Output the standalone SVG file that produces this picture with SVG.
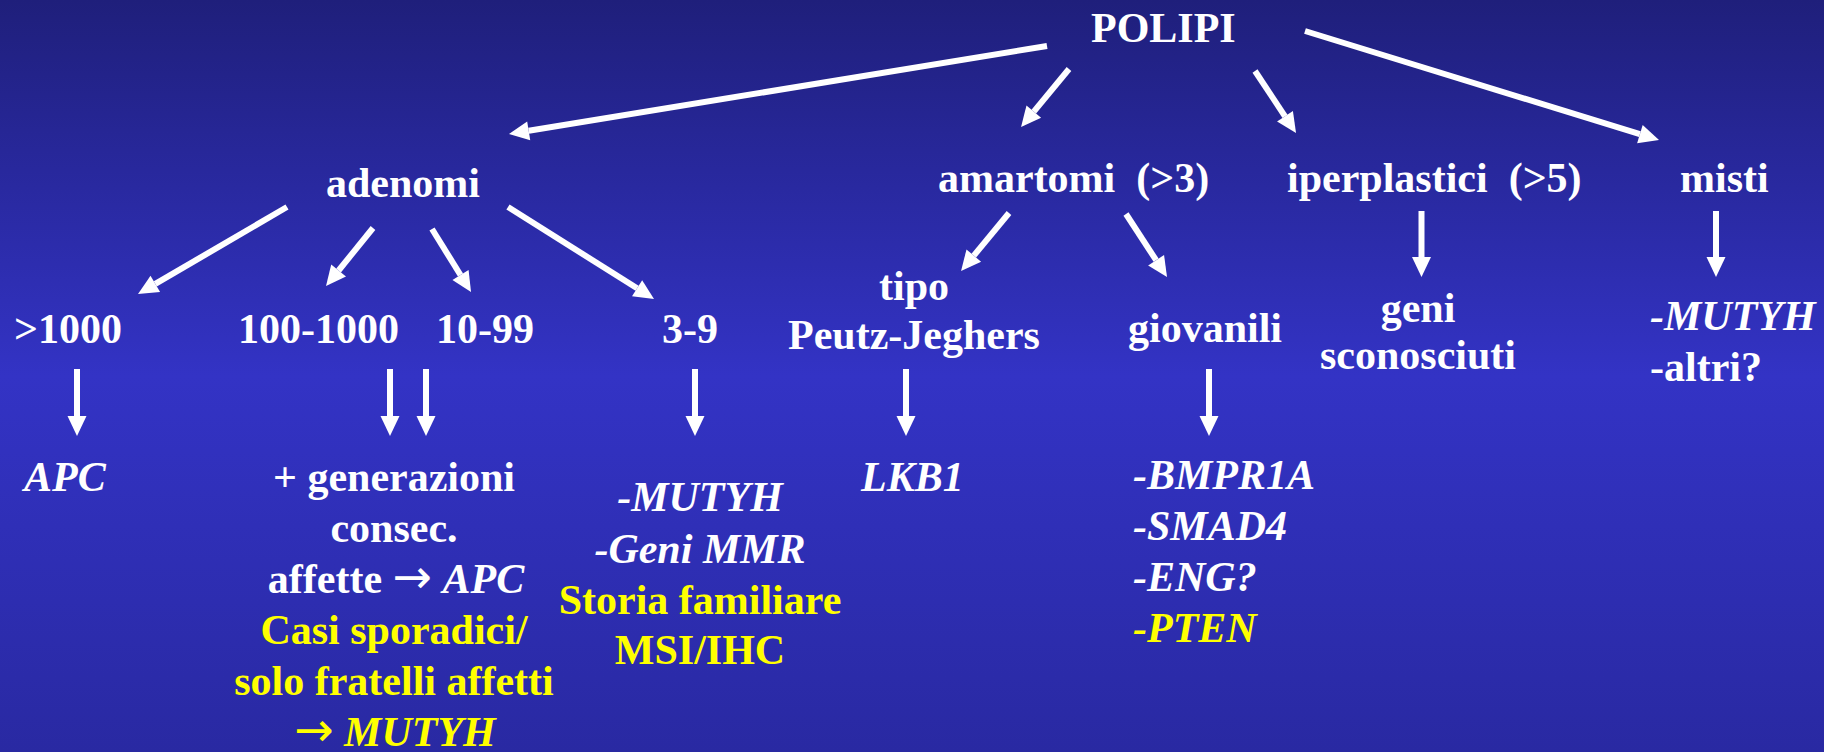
<svg xmlns="http://www.w3.org/2000/svg" width="1824" height="752" viewBox="0 0 1824 752">
<defs>
<linearGradient id="bg" x1="0" y1="0" x2="0" y2="1">
<stop offset="0" stop-color="#1f1f7b"/>
<stop offset="0.5" stop-color="#3333c5"/>
<stop offset="1" stop-color="#2929a2"/>
</linearGradient>
<marker id="ah" markerUnits="userSpaceOnUse" markerWidth="22" markerHeight="20" refX="0" refY="9.5" orient="auto" overflow="visible">
<path d="M0,0 L20,9.5 L0,19 Z" fill="#ffffff"/>
</marker>
<style>
text{font-family:"Liberation Serif","Times New Roman",serif;font-weight:bold;font-size:42px;fill:#ffffff;white-space:pre}
.y{fill:#ffff00}
.i{font-style:italic}
.m{text-anchor:middle}
.ar{font-family:"DejaVu Sans",sans-serif;font-weight:normal;font-size:47px}
.c line{stroke:#ffffff;stroke-width:6;marker-end:url(#ah)}
</style>
</defs>
<rect x="0" y="0" width="1824" height="752" fill="url(#bg)"/>
<g class="c" id="connectors">
<line x1="1047" y1="46" x2="528.7" y2="130.8"/>
<line x1="1069" y1="69" x2="1033.8" y2="111.6"/>
<line x1="1255" y1="71" x2="1285" y2="116.3"/>
<line x1="1305" y1="31" x2="1639.9" y2="134.1"/>
<line x1="287" y1="207" x2="155.3" y2="283.9"/>
<line x1="373" y1="228" x2="338.6" y2="270.5"/>
<line x1="432" y1="229" x2="460.5" y2="275"/>
<line x1="508" y1="207" x2="637.1" y2="288.3"/>
<line x1="1009" y1="213" x2="973.8" y2="255.6"/>
<line x1="1126" y1="214" x2="1156.1" y2="260.2"/>
<line x1="1421.5" y1="211" x2="1421.5" y2="257"/>
<line x1="1716" y1="211" x2="1716" y2="257"/>
<line x1="77" y1="369" x2="77" y2="416"/>
<line x1="390" y1="369" x2="390" y2="416"/>
<line x1="426" y1="369" x2="426" y2="416"/>
<line x1="695" y1="369" x2="695" y2="416"/>
<line x1="906" y1="369" x2="906" y2="416"/>
<line x1="1209" y1="369" x2="1209" y2="416"/>
</g>
<g id="polipi"><text x="1091" y="42">POLIPI</text></g>
<g id="adenomi"><text x="326" y="197">adenomi</text></g>
<g id="amartomi"><text x="938" y="192">amartomi  (&gt;3)</text></g>
<g id="iperplastici"><text x="1287" y="192">iperplastici  (&gt;5)</text></g>
<g id="misti"><text x="1680" y="192">misti</text></g>
<g id="n1000"><text x="14" y="343">&gt;1000</text></g>
<g id="n100"><text x="238" y="343">100-1000</text></g>
<g id="n10"><text x="436" y="343">10-99</text></g>
<g id="n3"><text x="662" y="343">3-9</text></g>
<g id="pj"><text class="m" x="914" y="300">tipo</text><text class="m" x="914" y="349">Peutz-Jeghers</text></g>
<g id="giovanili"><text x="1128" y="342">giovanili</text></g>
<g id="geni"><text class="m" x="1418" y="322">geni</text><text class="m" x="1418" y="369">sconosciuti</text></g>
<g id="mistigenes"><text class="i" x="1650" y="330">-MUTYH</text><text x="1650" y="381">-altri?</text></g>
<g id="apc"><text class="i" x="24" y="491">APC</text></g>
<g id="gen">
<text class="m" x="394" y="491">+ generazioni</text>
<text class="m" x="394" y="542">consec.</text>
<text class="m" x="396" y="593">affette <tspan class="ar">→</tspan> <tspan class="i">APC</tspan></text>
<text class="m y" x="394" y="644">Casi sporadici/</text>
<text class="m y" x="394" y="695">solo fratelli affetti</text>
<text class="m y" x="395" y="746"><tspan class="ar">→</tspan> <tspan class="i">MUTYH</tspan></text>
</g>
<g id="g39">
<text class="m i" x="700" y="511">-MUTYH</text>
<text class="m i" x="700" y="563">-Geni MMR</text>
<text class="m y" x="700" y="614">Storia familiare</text>
<text class="m y" x="700" y="664">MSI/IHC</text>
</g>
<g id="lkb1"><text class="i" x="861" y="491">LKB1</text></g>
<g id="giogenes">
<text class="i" x="1133" y="489">-BMPR1A</text>
<text class="i" x="1133" y="540">-SMAD4</text>
<text class="i" x="1133" y="591">-ENG?</text>
<text class="i y" x="1133" y="642">-PTEN</text>
</g>
</svg>
